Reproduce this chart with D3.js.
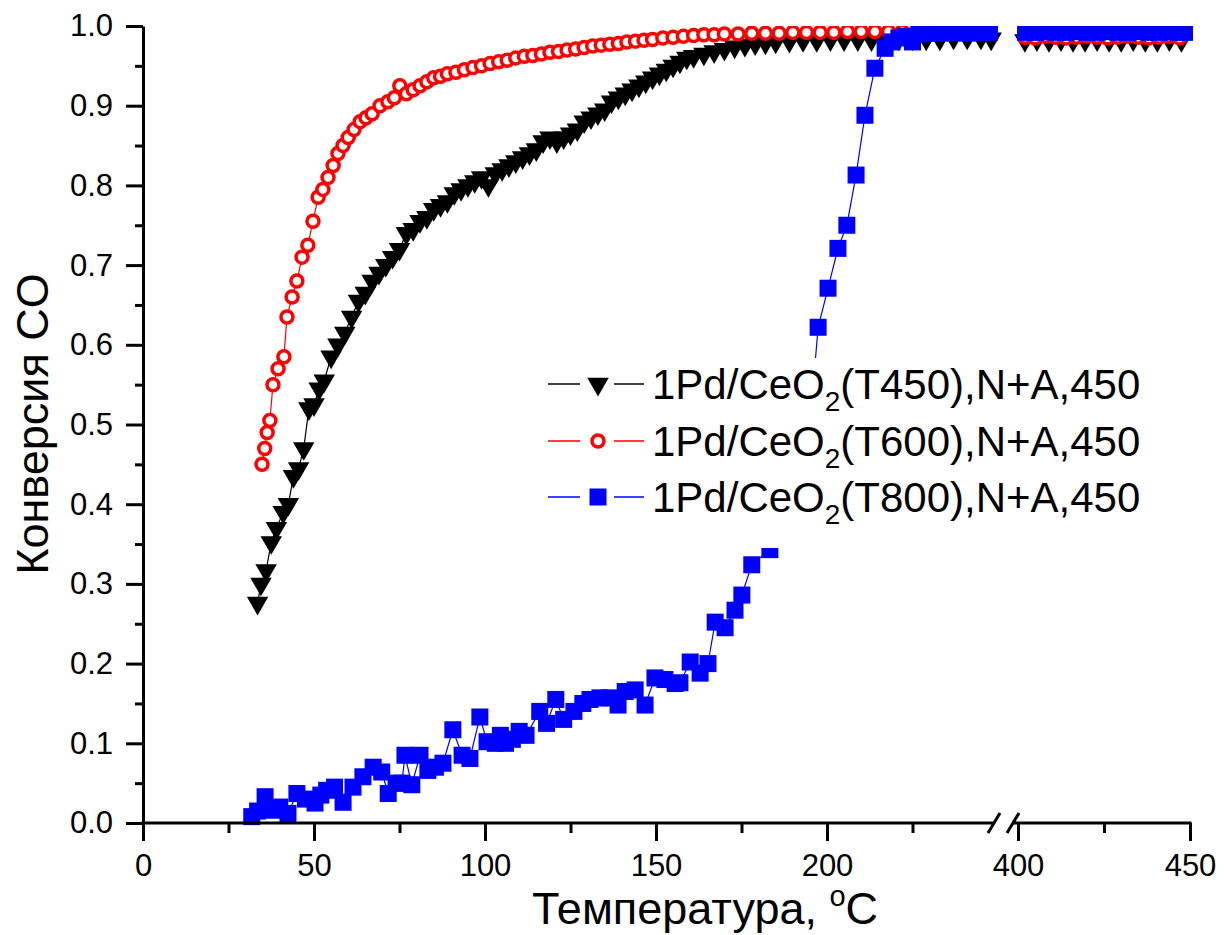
<!DOCTYPE html>
<html>
<head>
<meta charset="utf-8">
<script src="https://cdn.jsdelivr.net/npm/d3@7"></script>
<style>
  body { margin: 0; background: #fff; }
  svg { display: block; font-family: "Liberation Sans", Arial, sans-serif; }
  .axis path, .axis line { stroke: #000; stroke-width: 3; }
  .axis text { font-size: 31px; fill: #000; font-family: "Liberation Sans", Arial, sans-serif; }
</style>
</head>
<body>
<div id="container"></div>
<script>
var W = 1224, H = 935;

// ---- data ----
var t450Temp = [33.5,34.5,36,37.5,39,41,42.5,44,45.5,47,48.5,50,51.5,53,55,57,59,61,63,65,67,69,71,73,75,77,79,81,83,85,87,89,91,93,95,97,99,101,103,105,107,109,111,113,115,117,119,121,123,125,127,129,131,133,135,137,139,141,143,145,147,149,151,153,155,157,159,161,164,167,170,173,176,179,182,185,189,193,197,201,205,209,213,217,221,225,229,233,237,241,245,248,
                402,405.5,409,412.5,416,419.5,423,426.5,430,433.5,437,440.5,444,447.5];
var t450Conv = [0.276,0.30,0.317,0.352,0.37,0.39,0.40,0.435,0.445,0.47,0.52,0.525,0.545,0.555,0.585,0.60,0.615,0.635,0.655,0.665,0.68,0.69,0.70,0.71,0.72,0.74,0.745,0.755,0.76,0.77,0.775,0.78,0.79,0.795,0.80,0.805,0.81,0.80,0.815,0.82,0.825,0.83,0.835,0.84,0.845,0.855,0.86,0.855,0.86,0.865,0.87,0.88,0.885,0.89,0.895,0.905,0.91,0.915,0.92,0.925,0.93,0.935,0.94,0.945,0.95,0.955,0.96,0.962,0.965,0.968,0.971,0.974,0.976,0.978,0.979,0.98,0.981,0.982,0.982,0.983,0.983,0.983,0.983,0.984,0.984,0.984,0.984,0.984,0.985,0.985,0.985,0.984,
                0.982,0.983,0.982,0.983,0.982,0.982,0.983,0.982,0.982,0.983,0.982,0.982,0.983,0.982];

var t600Temp = [34.8,35.6,36.3,37.1,38,39.5,41.2,42.1,43.6,45,46.5,48.2,49.7,51.2,52.6,54.1,55.6,57,58.5,60,61.7,63.5,65.2,67,69.3,71.6,73.5,75.1,77,79,81,83,85,87,89,91.5,94,96.5,99,101.5,104,106.5,109,111.5,114,116.5,119,121.5,124,126.5,129,131.5,134,136.5,139,141.5,144,146.5,149,152,155,158,161,164,167,170,174,178,182,186,190,194,198,202,206,210,214,218,222,226,230,234,238,242,246,
                402,405,408,411,414,417,420,423,426,429,432,435,438,441,444,447];
var t600Conv = [0.45,0.47,0.49,0.505,0.55,0.57,0.585,0.635,0.66,0.68,0.71,0.725,0.755,0.785,0.795,0.81,0.825,0.84,0.85,0.86,0.87,0.88,0.885,0.89,0.90,0.905,0.91,0.925,0.915,0.92,0.925,0.93,0.935,0.937,0.94,0.942,0.945,0.948,0.95,0.953,0.955,0.957,0.96,0.962,0.963,0.965,0.967,0.968,0.97,0.971,0.973,0.975,0.976,0.977,0.978,0.98,0.981,0.982,0.983,0.985,0.986,0.987,0.988,0.989,0.989,0.99,0.99,0.991,0.991,0.991,0.992,0.992,0.992,0.992,0.993,0.993,0.993,0.993,0.993,0.993,0.993,0.993,0.993,0.993,0.993,
                0.986,0.985,0.987,0.986,0.985,0.986,0.987,0.986,0.985,0.986,0.987,0.986,0.985,0.986,0.987,0.985];

var t800Temp = [31.8,33.5,35.7,38,40,42.4,45,47.5,50.3,52,53.7,56,58.5,61.4,64.3,67.3,69.8,71.7,74,75.7,76.6,78.6,81,83.3,85.5,87.7,90.6,93.3,95.6,98.5,100.6,103,104.5,106,108,110,112,116,118,120.7,123,126,128.6,130.7,133.6,136.5,138.9,141,143.9,146.8,149.7,152.6,155.6,157,160,162.9,165.2,167.3,170.2,173.1,175.1,178,183.3,186,189,192,196,197.4,200.3,203.2,205.8,208.5,211.1,214,217,219,221,223,225,227,229,231,233,235,237,239,241,243,245,247.5,
                402.2,405,408,411,414,417,420,423,426,429,432,435,438,441,444,446.5,448.4];
var t800Conv = [0.008,0.015,0.033,0.016,0.02,0.012,0.037,0.03,0.025,0.035,0.041,0.045,0.026,0.045,0.058,0.07,0.064,0.037,0.05,0.05,0.085,0.048,0.085,0.066,0.07,0.075,0.117,0.085,0.081,0.133,0.102,0.10,0.11,0.10,0.105,0.115,0.11,0.14,0.125,0.155,0.13,0.14,0.15,0.155,0.157,0.157,0.148,0.165,0.167,0.148,0.182,0.18,0.175,0.176,0.202,0.188,0.20,0.252,0.245,0.267,0.286,0.324,0.343,0.40,0.45,0.50,0.55,0.622,0.671,0.721,0.75,0.813,0.888,0.947,0.972,0.98,0.985,0.987,0.98,0.99,0.991,0.992,0.991,0.992,0.993,0.992,0.991,0.992,0.992,0.992,
                0.992,0.992,0.993,0.992,0.992,0.993,0.992,0.992,0.993,0.992,0.992,0.993,0.992,0.992,0.993,0.992,0.992];

var xMajorLeft = [0, 50, 100, 150, 200], xMinorLeft = [25, 75, 125, 175, 225];
var xMajorRight = [400, 450], xMinorRight = [425];
var yMajor = [0,0.1,0.2,0.3,0.4,0.5,0.6,0.7,0.8,0.9,1.0];
var yMinor = [0.05,0.15,0.25,0.35,0.45,0.55,0.65,0.75,0.85,0.95];
var legLabel = ['T450', 'T600', 'T800'];

function zip(ts, cs) { return ts.map((t, i) => ({x: t, y: cs[i]})); }
var series = [
  {name: 'T450', data: zip(t450Temp, t450Conv), color: '#000000', mark: 'tri'},
  {name: 'T600', data: zip(t600Temp, t600Conv), color: '#ff0000', mark: 'circle'},
  {name: 'T800', data: zip(t800Temp, t800Conv), color: '#0000ff', mark: 'square'}
];

/* scales: broken x axis */
var xLeft = d3.scaleLinear().domain([0, 250]).range([143, 998]);
var xRight = d3.scaleLinear().domain([400, 450]).range([1018, 1190]);
var xPos = t => t < 300 ? xLeft(t) : xRight(t);
var yScale = d3.scaleLinear().domain([0, 1]).range([823, 26]);

var svg = d3.select('#container').append('svg')
    .attr('width', W).attr('height', H);

svg.append('clipPath').attr('id', 'plotclip')
  .append('rect').attr('x', 120).attr('y', yScale(1)).attr('width', 1100).attr('height', 823 - yScale(1) + 20);

var plot = svg.append('g').attr('clip-path', 'url(#plotclip)');

var line = d3.line().x(d => xPos(d.x)).y(d => yScale(d.y));
var triPath = d3.symbol(d3.symbolTriangle, 200)();
var sqSize = 17;

series.forEach(s => {
  var g = plot.append('g');
  [s.data.filter(d => d.x < 300), s.data.filter(d => d.x >= 300)].forEach(seg => {
    g.append('path').datum(seg)
      .attr('d', line).attr('fill', 'none')
      .attr('stroke', s.color).attr('stroke-width', 1.2);
  });
  var pts = g.selectAll('.pt').data(s.data).enter();
  if (s.mark === 'tri') {
    pts.append('path').attr('d', triPath)
      .attr('transform', d => `translate(${xPos(d.x)},${yScale(d.y)}) rotate(180)`)
      .attr('fill', s.color);
  } else if (s.mark === 'circle') {
    pts.append('circle').attr('cx', d => xPos(d.x)).attr('cy', d => yScale(d.y))
      .attr('r', 6).attr('fill', '#fff').attr('stroke', s.color).attr('stroke-width', 3.5);
  } else {
    pts.append('rect').attr('x', d => xPos(d.x) - sqSize / 2).attr('y', d => yScale(d.y) - sqSize / 2)
      .attr('width', sqSize).attr('height', sqSize).attr('fill', s.color);
  }
});

/* y axis */
svg.append('g').classed('axis', true).attr('transform', 'translate(143,0)')
  .call(d3.axisLeft(yScale).tickValues(yMajor).tickFormat(d3.format('.1f')).tickSize(17).tickPadding(13).tickSizeOuter(0));
svg.append('g').classed('axis', true).attr('transform', 'translate(143,0)')
  .call(d3.axisLeft(yScale).tickValues(yMinor).tickFormat('').tickSize(8).tickSizeOuter(0))
  .select('.domain').remove();

/* x axis, left part */
var xAxL = svg.append('g').classed('axis', true).attr('transform', 'translate(0,823)')
  .call(d3.axisBottom(xLeft).tickValues(xMajorLeft).tickSize(18).tickPadding(13).tickSizeOuter(0));
xAxL.select('.domain').attr('d', 'M141.5,0H994');
svg.append('g').classed('axis', true).attr('transform', 'translate(0,823)')
  .call(d3.axisBottom(xLeft).tickValues(xMinorLeft).tickFormat('').tickSize(10).tickSizeOuter(0))
  .select('.domain').remove();

/* x axis, right part */
var xAxR = svg.append('g').classed('axis', true).attr('transform', 'translate(0,823)')
  .call(d3.axisBottom(xRight).tickValues(xMajorRight).tickSize(18).tickPadding(13).tickSizeOuter(0));
xAxR.select('.domain').attr('d', 'M1012,0H1191.5');
svg.append('g').classed('axis', true).attr('transform', 'translate(0,823)')
  .call(d3.axisBottom(xRight).tickValues(xMinorRight).tickFormat('').tickSize(10).tickSizeOuter(0))
  .select('.domain').remove();

/* break marks */
[[988, 1000], [1007, 1019]].forEach(b => {
  svg.append('line').attr('x1', b[0]).attr('y1', 833).attr('x2', b[1]).attr('y2', 813)
    .attr('stroke', '#000').attr('stroke-width', 3);
});

/* axis titles */
svg.append('text').attr('x', 705).attr('y', 924).attr('text-anchor', 'middle')
  .attr('font-size', 45).attr('fill', '#000')
  .call(t => {
    t.append('tspan').text('Температура, ');
    t.append('tspan').attr('font-size', 29).attr('dy', -18).text('o');
    t.append('tspan').attr('dy', 18).text('C');
  });
svg.append('text').attr('transform', 'translate(48,424) rotate(-90)').attr('text-anchor', 'middle')
  .attr('font-size', 45).attr('fill', '#000').text('Конверсия CO');

/* legend with white box */
var leg = svg.append('g');
leg.append('rect').attr('x', 540).attr('y', 358).attr('width', 614).attr('height', 190).attr('fill', '#fff');
var legY = [384, 441, 497];
series.forEach((s, i) => {
  var y = legY[i];
  leg.append('line').attr('x1', 548).attr('x2', 580).attr('y1', y).attr('y2', y).attr('stroke', s.color).attr('stroke-width', 1.5);
  leg.append('line').attr('x1', 614).attr('x2', 644).attr('y1', y).attr('y2', y).attr('stroke', s.color).attr('stroke-width', 1.5);
  if (s.mark === 'tri') {
    leg.append('path').attr('d', triPath).attr('transform', `translate(598,${y}) rotate(180)`).attr('fill', s.color);
  } else if (s.mark === 'circle') {
    leg.append('circle').attr('cx', 598).attr('cy', y).attr('r', 6).attr('fill', '#fff').attr('stroke', s.color).attr('stroke-width', 3.5);
  } else {
    leg.append('rect').attr('x', 598 - sqSize / 2).attr('y', y - sqSize / 2).attr('width', sqSize).attr('height', sqSize).attr('fill', s.color);
  }
  var txt = leg.append('text').attr('x', 652).attr('y', y + 15).attr('font-size', 42).attr('fill', '#000');
  txt.append('tspan').text('1Pd/CeO');
  txt.append('tspan').attr('font-size', 28).attr('dy', 12).text('2');
  txt.append('tspan').attr('dy', -12).text('(' + legLabel[i] + '),N+A,450');
});
</script>
</body>
</html>
